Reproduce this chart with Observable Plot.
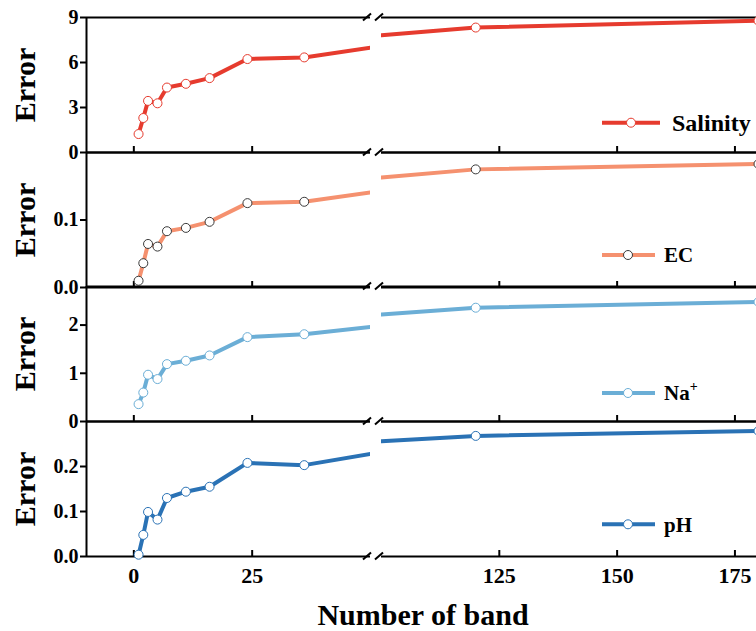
<!DOCTYPE html>
<html><head><meta charset="utf-8">
<script src="https://cdn.jsdelivr.net/npm/d3@7"></script>
<script src="https://cdn.jsdelivr.net/npm/@observablehq/plot@0.6"></script>
<style>
body{margin:0;background:#fff;}
#chart{position:relative;width:756px;height:631px;overflow:hidden;background:#fff;font-family:"Liberation Serif","Times New Roman",serif;}
#chart svg{position:absolute;overflow:visible;}
#xlabel{position:absolute;left:0;width:846px;top:600px;text-align:center;font-weight:bold;font-size:30px;line-height:30px;color:#000;}
</style>
</head><body><div id="chart"><div id="xlabel">Number of band</div></div>
<script>
// ---- data ----
// 50 and 100 are where the line meets the axis break (no marker drawn there)
const bandX    = [1, 2, 3, 5, 7, 11, 16, 24, 36, 50, 100, 120, 180];
const breakX   = [50, 100];
const salinity = [1.23, 2.30, 3.44, 3.28, 4.33, 4.58, 4.96, 6.23, 6.34, 6.99, 7.82, 8.33, 8.78];
const ec       = [0.010, 0.036, 0.0645, 0.0606, 0.0834, 0.0883, 0.0973, 0.125, 0.127, 0.141, 0.163, 0.175, 0.183];
const na       = [0.36, 0.60, 0.97, 0.88, 1.19, 1.26, 1.37, 1.75, 1.81, 1.96, 2.22, 2.36, 2.48];
const ph       = [0.004, 0.048, 0.099, 0.082, 0.130, 0.144, 0.155, 0.208, 0.203, 0.228, 0.256, 0.268, 0.279];

const seriesNames  = ["Salinity", "EC", "Na", "pH"];
const xDomainLeft  = [-10, 50];
const xDomainRight = [100, 180];
const xTicksLeft   = [0, 25];
const xTicksRight  = [125, 150, 175];
const yDomains     = [[0, 9], [0, 0.2], [0, 2.8], [0, 0.3]];
const yTicks       = [[0, 3, 6, 9], [0, 0.1], [0, 1, 2], [0, 0.1, 0.2]];
const yFormats     = ["d", ".1f", "d", ".1f"];
const seriesValues = [salinity, ec, na, ph];

// ---- style ----
const FONT = '"Liberation Serif","Times New Roman",serif';
const lineColors   = ["#E63B2E", "#F5916F", "#6BAED6", "#2A72B5"];
const markerStroke = ["#E63B2E", "#3a3a3a", "#6BAED6", "#2A72B5"];
const panelTop = [17, 152, 286, 421];
const H = 135;
const leftX0 = 86, leftW = 284, rightX0 = 381, rightW = 377;

const chart = document.getElementById("chart");

seriesNames.forEach((name, i) => {
  const rows = bandX.map((x, k) => ({x, y: seriesValues[i][k]}));
  const markers = rows.filter(d => !breakX.includes(d.x));
  const last = i === seriesNames.length - 1;
  const common = {
    height: H, marginTop: 0, marginRight: 0, marginBottom: 0, marginLeft: 0,
    y: {domain: yDomains[i], axis: null},
    style: {overflow: "visible", background: "transparent", color: "#000",
            fontFamily: FONT, fontWeight: "bold", fontSize: "20px"}
  };
  const seg = (domain, ticks, isLeft) => {
    const marks = [
      Plot.ruleY([yDomains[i][0]], {stroke: "#000", strokeWidth: 2}),
      Plot.ruleY([yDomains[i][1]], {stroke: "#000", strokeWidth: 2}),
      Plot.tickX(ticks, {x: d => d, insetTop: H - 6, stroke: "#000", strokeWidth: 2}),
      Plot.line(rows, {x: "x", y: "y", stroke: lineColors[i], strokeWidth: 4, clip: true}),
      Plot.dot(markers.filter(d => d.x >= domain[0] && d.x <= domain[1]),
        {x: "x", y: "y", r: 4.5, fill: "#fff", stroke: markerStroke[i], strokeWidth: 1})
    ];
    if (isLeft) {
      marks.unshift(Plot.ruleX([domain[0]], {stroke: "#000", strokeWidth: 2}));
      marks.push(Plot.axisY(yTicks[i], {tickSize: 6, tickPadding: 2, strokeWidth: 2, label: null,
        tickFormat: d3.format(yFormats[i]), fontSize: 20, fontWeight: "bold"}));
      marks.push(Plot.text(["Error"], {frameAnchor: "left", dx: -61, rotate: -90,
        fontSize: 30, fontWeight: "bold", lineAnchor: "middle", textAnchor: "middle"}));
    }
    if (last) {
      marks.push(Plot.axisX(ticks, {tickSize: 0, tickPadding: 11, fontSize: 22, fontWeight: "bold", label: null}));
    }
    return Plot.plot({...common, width: isLeft ? leftW : rightW,
      x: {domain, axis: null}, marks});
  };
  const l = seg(xDomainLeft, xTicksLeft, true);
  l.style.left = leftX0 + "px"; l.style.top = panelTop[i] + "px";
  chart.appendChild(l);
  const r = seg(xDomainRight, xTicksRight, false);
  r.style.left = rightX0 + "px"; r.style.top = panelTop[i] + "px";
  chart.appendChild(r);
});

// ---- overlay: break marks and legends ----
const ov = d3.select(chart).append("svg").attr("width", 756).attr("height", 631)
  .style("left", "0px").style("top", "0px");
[...panelTop, panelTop[3] + H].forEach(y => {
  [367, 379].forEach(cx => {
    ov.append("line").attr("x1", cx - 4).attr("y1", y + 3.5).attr("x2", cx + 4).attr("y2", y - 3.5)
      .attr("stroke", "#000").attr("stroke-width", 2);
  });
});
const legendY  = [122.7, 255, 393, 524.3];
const legendL  = [[602, 660, 631, 672], [602, 655, 628, 664], [602, 655, 628, 664], [602, 655, 628, 664]];
const legendFs = [24, 21, 21, 21];
seriesNames.forEach((name, i) => {
  const [x1, x2, cx, tx] = legendL[i], y = legendY[i];
  ov.append("line").attr("x1", x1).attr("x2", x2).attr("y1", y).attr("y2", y)
    .attr("stroke", lineColors[i]).attr("stroke-width", 4);
  ov.append("circle").attr("cx", cx).attr("cy", y).attr("r", 4.5)
    .attr("fill", "#fff").attr("stroke", markerStroke[i]).attr("stroke-width", 1);
  const t = ov.append("text").attr("x", tx).attr("y", y).attr("dy", "0.35em")
    .attr("font-family", FONT).attr("font-weight", "bold").attr("font-size", legendFs[i]).attr("fill", "#000");
  if (name === "Na") {
    t.append("tspan").text("Na");
    t.append("tspan").text("+").attr("font-size", 14).attr("dy", "-0.7em");
  } else t.text(name);
});
</script>
</body></html>
